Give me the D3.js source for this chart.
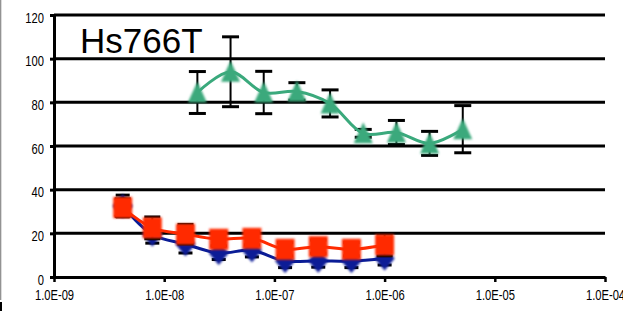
<!DOCTYPE html>
<html>
<head>
<meta charset="utf-8">
<script src="https://cdn.jsdelivr.net/npm/d3@7"></script>
<style>
  body { margin: 0; background: #fff; }
  svg { display: block; }
</style>
</head>
<body>
<svg id="chart" width="635" height="311"></svg>
<script>
// y grid values and x decade ticks
const Y_TICKS = [0, 20, 40, 60, 80, 100, 120];
const X_TICKS = [1e-9, 1e-8, 1e-7, 1e-6, 1e-5, 1e-4];
const X_TICK_LABELS = ["1.0E-09", "1.0E-08", "1.0E-07", "1.0E-06", "1.0E-05", "1.0E-04"];

// green series (triangles)
const GREEN_X = [2e-8, 4e-8, 8e-8, 1.6e-7, 3.2e-7, 6.4e-7, 1.28e-6, 2.56e-6, 5.12e-6];
const GREEN_Y = [84.5, 94, 84.5, 85, 79.5, 65.8, 66.2, 61.2, 67.7];
const GREEN_ERR = [9.6, 16, 9.7, 4, 6.2, 1.8, 5.5, 5.5, 10.8];

// blue and red series (diamonds, squares)
const LOW_X = [4.2e-9, 7.8e-9, 1.56e-8, 3.125e-8, 6.25e-8, 1.25e-7, 2.5e-7, 5e-7, 1e-6];
const BLUE_Y = [32.5, 19.5, 15, 11, 12.2, 7.3, 7.5, 7.3, 8.5];
const BLUE_ERR = [5, 4, 4, 3, 3, 3, 3, 3, 3];
const RED_Y = [31.8, 22.5, 19.6, 17.3, 17.7, 12.7, 13.9, 12.7, 14.7];
const RED_ERR = [4, 5, 4.5, 3, 3, 3, 3, 3, 5];

const TITLE = "Hs766T";

const svg = d3.select("#chart");

const defs = svg.append("defs");
defs.append("clipPath").attr("id", "clip")
  .append("rect").attr("x", 0).attr("y", 0).attr("width", 623).attr("height", 311);
defs.append("filter").attr("id", "soft")
  .attr("x", "-30%").attr("y", "-30%").attr("width", "160%").attr("height", "160%")
  .append("feGaussianBlur").attr("stdDeviation", 0.9);

const root = svg.append("g").attr("clip-path", "url(#clip)");

const xScale = d3.scaleLog().domain([1e-9, 1e-4]).range([54, 605]);
const yScale = d3.scaleLinear().domain([0, 120]).range([277, 15]);

// left border bits
root.append("line").attr("x1", 0.7).attr("x2", 0.7).attr("y1", 0).attr("y2", 300)
  .attr("stroke", "#888").attr("stroke-width", 1.2);
root.append("line").attr("x1", 1).attr("x2", 1).attr("y1", 302).attr("y2", 311)
  .attr("stroke", "#000").attr("stroke-width", 2);

// gridlines
root.append("g").selectAll("line")
  .data(Y_TICKS.filter(d => d > 0))
  .join("line")
  .attr("x1", xScale(1e-9)).attr("x2", xScale(1e-4))
  .attr("y1", d => yScale(d)).attr("y2", d => yScale(d))
  .attr("stroke", "#000").attr("stroke-width", 3);

const fontFamily = "'Liberation Sans', Arial, sans-serif";

// y axis
const yAxis = root.append("g")
  .attr("transform", `translate(${xScale(1e-9)},0)`)
  .call(d3.axisLeft(yScale).tickValues(Y_TICKS).tickSize(4).tickSizeOuter(0));
yAxis.select(".domain").attr("stroke", "#000").attr("stroke-width", 3);
yAxis.selectAll(".tick line").attr("stroke", "#000").attr("stroke-width", 3);
yAxis.selectAll(".tick text")
  .attr("x", -12.5).attr("dy", 7)
  .attr("transform", "scale(0.8,1)")
  .style("font-family", fontFamily).style("font-size", "14px").attr("fill", "#000");

// x axis
const xAxis = root.append("g")
  .attr("transform", `translate(0,${yScale(0)})`)
  .call(d3.axisBottom(xScale).tickValues(X_TICKS).tickSize(5).tickSizeOuter(0)
    .tickFormat((d, i) => X_TICK_LABELS[i]));
xAxis.select(".domain").attr("stroke", "#000").attr("stroke-width", 3);
xAxis.selectAll(".tick line").attr("stroke", "#000").attr("stroke-width", 2.5);
xAxis.selectAll(".tick text")
  .attr("y", 23).attr("dy", 0)
  .attr("transform", "scale(0.8,1)")
  .style("font-family", fontFamily).style("font-size", "14px").attr("fill", "#000");

// title
root.append("text")
  .attr("x", 80).attr("y", 53)
  .style("font-family", fontFamily).style("font-size", "35px")
  .attr("fill", "#000")
  .text(TITLE);

function drawSeries(xs, ys, errs, color, symbolPath, capW) {
  const pts = xs.map((x, i) => ({ x: x, y: ys[i], e: errs[i] }));
  const g = root.append("g");

  const eb = g.append("g").attr("stroke", "#000");
  eb.selectAll("line.v").data(pts).join("line").attr("class", "v")
    .attr("x1", d => xScale(d.x)).attr("x2", d => xScale(d.x))
    .attr("y1", d => yScale(d.y + d.e)).attr("y2", d => yScale(d.y - d.e))
    .attr("stroke-width", 2);
  for (const sign of [1, -1]) {
    eb.selectAll("line.c" + sign).data(pts).join("line").attr("class", "c" + sign)
      .attr("x1", d => xScale(d.x) - capW / 2).attr("x2", d => xScale(d.x) + capW / 2)
      .attr("y1", d => yScale(d.y + sign * d.e)).attr("y2", d => yScale(d.y + sign * d.e))
      .attr("stroke-width", 3);
  }

  const line = d3.line()
    .x(d => xScale(d.x)).y(d => yScale(d.y))
    .curve(d3.curveCatmullRom.alpha(0.5));
  g.append("path").datum(pts)
    .attr("d", line)
    .attr("fill", "none").attr("stroke", color).attr("stroke-width", 3);

  g.append("g").attr("filter", "url(#soft)")
    .selectAll("path").data(pts).join("path")
    .attr("transform", d => `translate(${xScale(d.x)},${yScale(d.y)})`)
    .attr("d", symbolPath)
    .attr("fill", color);
}

const triangle = "M0,-11L9.5,10L-9.5,10Z";
const diamond = "M0,-12L10,0L0,12L-10,0Z";
const square = "M-9.5,-10.5L9.5,-10.5L9.5,10.5L-9.5,10.5Z";

drawSeries(GREEN_X, GREEN_Y, GREEN_ERR, "#3aa97c", triangle, 17);
drawSeries(LOW_X, BLUE_Y, BLUE_ERR, "#0a1c96", diamond, 14);
drawSeries(LOW_X, RED_Y, RED_ERR, "#ff2a00", square, 16);
</script>
</body>
</html>
